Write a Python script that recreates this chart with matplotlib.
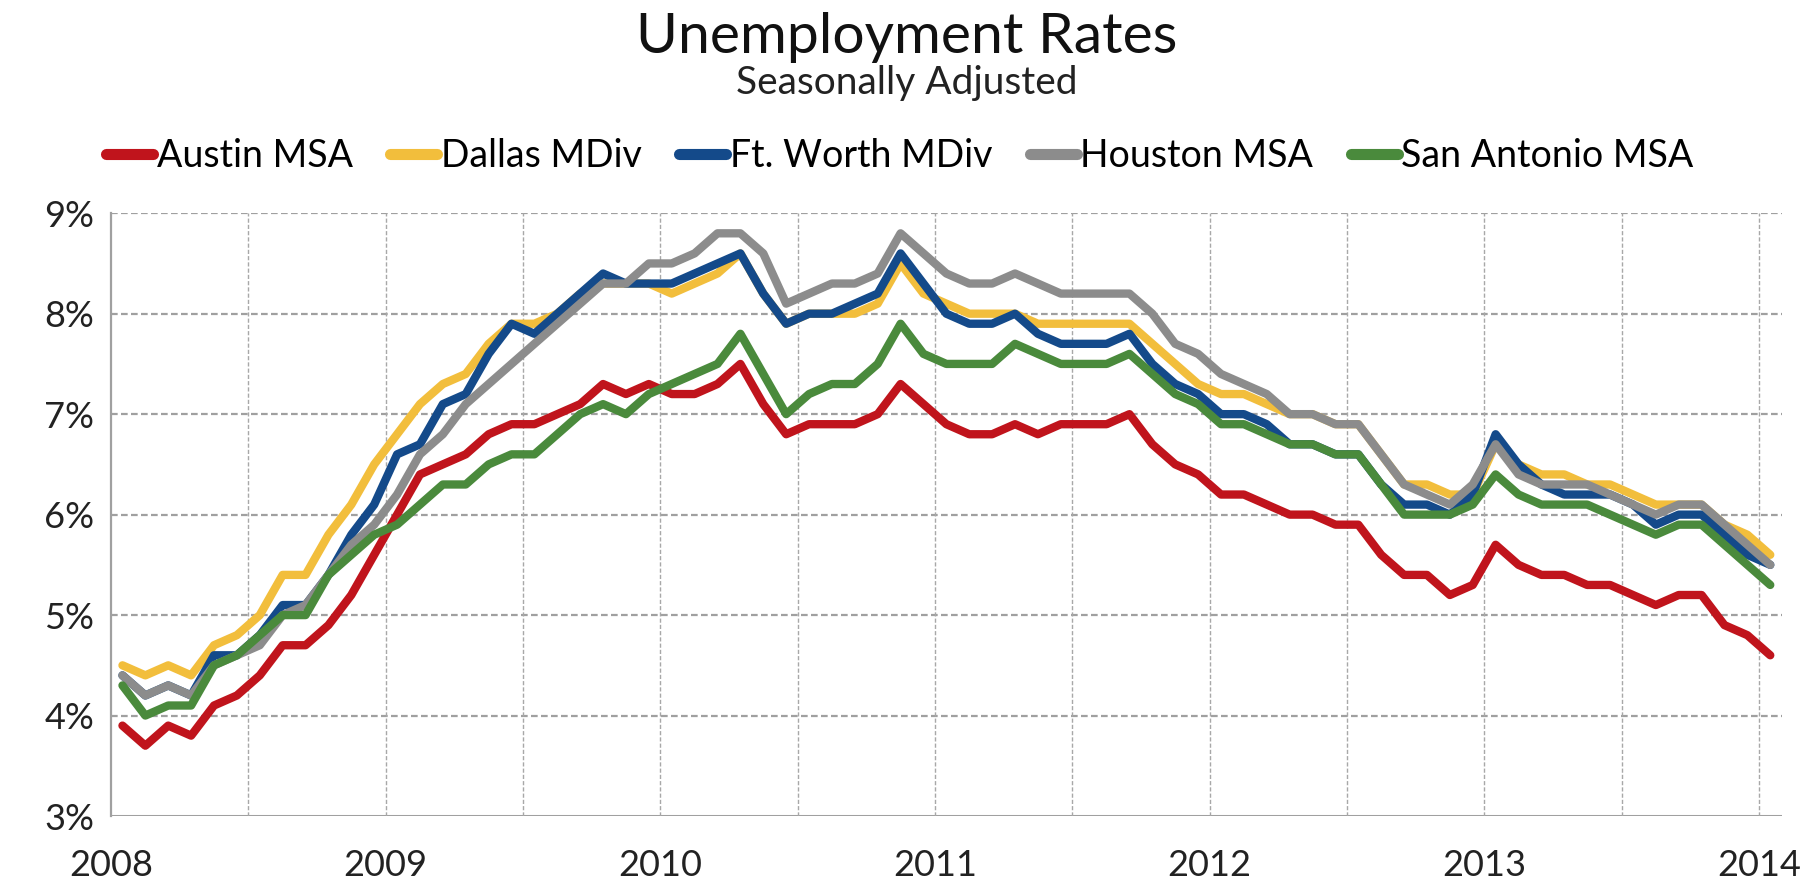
import matplotlib
matplotlib.use("Agg")
import matplotlib.pyplot as plt
import numpy as np

plt.rcParams['font.family'] = ['Lato', 'DejaVu Sans']

# monthly, Jan 2008 .. Jan 2014
series_names = ["Austin MSA", "Dallas MDiv", "Ft. Worth MDiv", "Houston MSA", "San Antonio MSA"]
series_colors = ["#C0141C", "#F2BE3C", "#144A8A", "#8C8C8C", "#4A8A3C"]

austin = [3.9, 3.7, 3.9, 3.8, 4.1, 4.2, 4.4, 4.7, 4.7, 4.9, 5.2, 5.6,
          6.0, 6.4, 6.5, 6.6, 6.8, 6.9, 6.9, 7.0, 7.1, 7.3, 7.2, 7.3,
          7.2, 7.2, 7.3, 7.5, 7.1, 6.8, 6.9, 6.9, 6.9, 7.0, 7.3, 7.1,
          6.9, 6.8, 6.8, 6.9, 6.8, 6.9, 6.9, 6.9, 7.0, 6.7, 6.5, 6.4,
          6.2, 6.2, 6.1, 6.0, 6.0, 5.9, 5.9, 5.6, 5.4, 5.4, 5.2, 5.3,
          5.7, 5.5, 5.4, 5.4, 5.3, 5.3, 5.2, 5.1, 5.2, 5.2, 4.9, 4.8, 4.6]
dallas = [4.5, 4.4, 4.5, 4.4, 4.7, 4.8, 5.0, 5.4, 5.4, 5.8, 6.1, 6.5,
          6.8, 7.1, 7.3, 7.4, 7.7, 7.9, 7.9, 8.0, 8.2, 8.3, 8.3, 8.3,
          8.2, 8.3, 8.4, 8.6, 8.2, 7.9, 8.0, 8.0, 8.0, 8.1, 8.5, 8.2,
          8.1, 8.0, 8.0, 8.0, 7.9, 7.9, 7.9, 7.9, 7.9, 7.7, 7.5, 7.3,
          7.2, 7.2, 7.1, 7.0, 7.0, 6.9, 6.9, 6.6, 6.3, 6.3, 6.2, 6.2,
          6.7, 6.5, 6.4, 6.4, 6.3, 6.3, 6.2, 6.1, 6.1, 6.1, 5.9, 5.8, 5.6]
ftworth = [4.4, 4.2, 4.3, 4.2, 4.6, 4.6, 4.8, 5.1, 5.1, 5.4, 5.8, 6.1,
           6.6, 6.7, 7.1, 7.2, 7.6, 7.9, 7.8, 8.0, 8.2, 8.4, 8.3, 8.3,
           8.3, 8.4, 8.5, 8.6, 8.2, 7.9, 8.0, 8.0, 8.1, 8.2, 8.6, 8.3,
           8.0, 7.9, 7.9, 8.0, 7.8, 7.7, 7.7, 7.7, 7.8, 7.5, 7.3, 7.2,
           7.0, 7.0, 6.9, 6.7, 6.7, 6.6, 6.6, 6.3, 6.1, 6.1, 6.0, 6.2,
           6.8, 6.5, 6.3, 6.2, 6.2, 6.2, 6.1, 5.9, 6.0, 6.0, 5.8, 5.6, 5.5]
houston = [4.4, 4.2, 4.3, 4.2, 4.5, 4.6, 4.7, 5.0, 5.1, 5.4, 5.7, 5.9,
           6.2, 6.6, 6.8, 7.1, 7.3, 7.5, 7.7, 7.9, 8.1, 8.3, 8.3, 8.5,
           8.5, 8.6, 8.8, 8.8, 8.6, 8.1, 8.2, 8.3, 8.3, 8.4, 8.8, 8.6,
           8.4, 8.3, 8.3, 8.4, 8.3, 8.2, 8.2, 8.2, 8.2, 8.0, 7.7, 7.6,
           7.4, 7.3, 7.2, 7.0, 7.0, 6.9, 6.9, 6.6, 6.3, 6.2, 6.1, 6.3,
           6.7, 6.4, 6.3, 6.3, 6.3, 6.2, 6.1, 6.0, 6.1, 6.1, 5.9, 5.7, 5.5]
sanantonio = [4.3, 4.0, 4.1, 4.1, 4.5, 4.6, 4.8, 5.0, 5.0, 5.4, 5.6, 5.8,
              5.9, 6.1, 6.3, 6.3, 6.5, 6.6, 6.6, 6.8, 7.0, 7.1, 7.0, 7.2,
              7.3, 7.4, 7.5, 7.8, 7.4, 7.0, 7.2, 7.3, 7.3, 7.5, 7.9, 7.6,
              7.5, 7.5, 7.5, 7.7, 7.6, 7.5, 7.5, 7.5, 7.6, 7.4, 7.2, 7.1,
              6.9, 6.9, 6.8, 6.7, 6.7, 6.6, 6.6, 6.3, 6.0, 6.0, 6.0, 6.1,
              6.4, 6.2, 6.1, 6.1, 6.1, 6.0, 5.9, 5.8, 5.9, 5.9, 5.7, 5.5, 5.3]

year_labels = ["2008", "2009", "2010", "2011", "2012", "2013", "2014"]
y_ticks = [3, 4, 5, 6, 7, 8, 9]

all_series = [austin, dallas, ftworth, houston, sanantonio]
months = np.arange(len(austin)) + 0.5

fig = plt.figure(figsize=(18.14, 8.8), dpi=100)
ax = fig.add_axes([0.0612, 0.0727, 0.921, 0.685])

for vals, name, col in zip(all_series, series_names, series_colors):
    ax.plot(months, vals, color=col, lw=6, label=name,
            solid_joinstyle='round', solid_capstyle='round')

ax.set_xlim(0, 73)
ax.set_ylim(3, 9)

# gridlines
for yv in y_ticks[1:]:
    ax.axhline(yv, color="#A0A0A0", lw=1.6, ls=(0, (3, 1.5)), zorder=0)
ax.axhline(3, color="#A0A0A0", lw=2.2, zorder=0)
for xv in range(6, 73, 6):
    ax.axvline(xv, color="#A8A8A8", lw=1.0, ls=(0, (3, 1.5)), zorder=0)

for s in ['top', 'right', 'bottom']:
    ax.spines[s].set_visible(False)
ax.spines['left'].set_color("#A0A0A0")
ax.spines['left'].set_linewidth(1.6)

ax.set_yticks(y_ticks)
ax.set_yticklabels([f"{v}%" for v in y_ticks])
ax.set_xticks(range(0, 73, 12))
ax.set_xticklabels(year_labels)
ax.tick_params(axis='both', length=0, labelsize=26, colors="#222222")
ax.tick_params(axis='y', pad=12)
ax.tick_params(axis='x', pad=24)

fig.text(0.5, 0.957, "Unemployment Rates", ha='center', va='center',
         fontsize=41, color="#111111")
fig.text(0.5, 0.906, "Seasonally Adjusted", ha='center', va='center',
         fontsize=28, color="#222222")

leg = fig.legend(loc='center', bbox_to_anchor=(0.496, 0.823), ncol=5,
                 frameon=False, fontsize=27, handlelength=1.25,
                 handletextpad=0.1, columnspacing=1.0)
for h in leg.get_lines():
    h.set_linewidth(8)

fig.savefig("out.png", dpi=100)
